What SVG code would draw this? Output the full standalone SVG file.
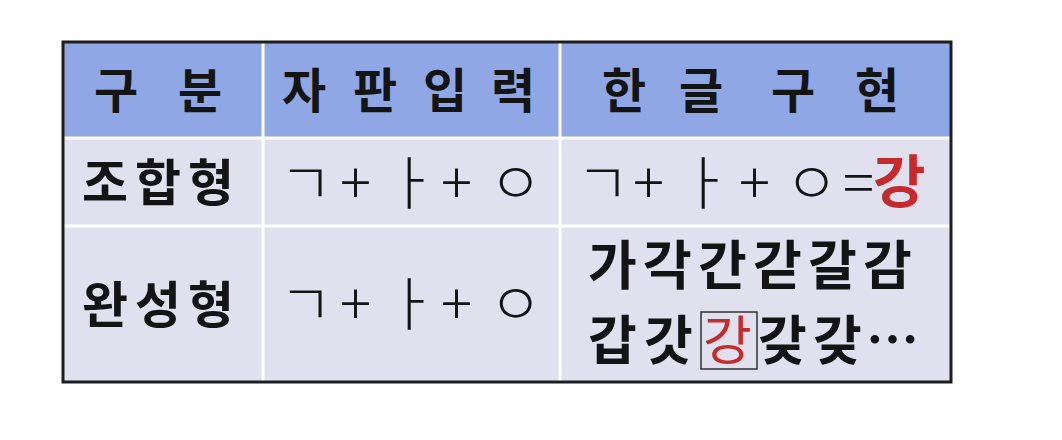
<svg xmlns="http://www.w3.org/2000/svg" width="1062" height="440" viewBox="0 0 1062 440">
<style>
.k{font-family:"Noto Sans CJK KR","Noto Sans CJK SC",sans-serif;fill:#141414}
.h{font-size:48px;font-weight:700}
.lab{font-size:50px;font-weight:700}
.j{font-size:58px;font-weight:300}
.c{font-size:53px;font-weight:700}
.red{fill:#c62a2a}
.grid{stroke:#ffffff;stroke-width:3;fill:none}
</style>
<rect width="1062" height="440" fill="#ffffff"/>
<g id="table">
<rect x="63" y="42" width="888" height="96" fill="#8fa7e5"/>
<rect x="63" y="138" width="888" height="244" fill="#e0e0ee"/>
<g class="grid">
<line x1="63" y1="138" x2="951" y2="138"/>
<line x1="63" y1="226" x2="951" y2="226"/>
<line x1="263" y1="42" x2="263" y2="382"/>
<line x1="560" y1="42" x2="560" y2="382"/>
</g>
<rect x="63" y="42" width="888" height="340" fill="none" stroke="#1e1e1e" stroke-width="3"/>
</g>
<g id="header">
<text class="k h" x="94 178" y="108">구분</text>
<text class="k h" x="282 353 423 491" y="108">자판입력</text>
<text class="k h" x="602 679 771 855" y="108">한글구현</text>
</g>
<g id="row1">
<text class="k lab" x="82 135 188" y="201">조합형</text>
<text class="k j" x="279 340 384 441 489" y="204">ㄱ+ㅏ+ㅇ</text>
<text class="k j" x="576 633 678 739 785 843" y="204">ㄱ+ㅏ+ㅇ=</text>
<text class="k c red" x="873" y="202" style="font-size:57px">강</text>
</g>
<g id="row2">
<text class="k lab" x="82 135 188" y="323">완성형</text>
<text class="k j" x="279 340 384 441 489" y="325">ㄱ+ㅏ+ㅇ</text>
<text class="k c" x="588 643 698 753 808 863" y="285">가각간갇갈감</text>
<text class="k c" x="588 644" y="360">갑갓</text>
<rect x="701" y="312" width="56" height="57" fill="none" stroke="#333333" stroke-width="1.5"/>
<text class="k c red" x="703" y="360" style="font-weight:400">강</text>
<text class="k c" x="758 813 866" y="360">갖갖…</text>
</g>
</svg>
